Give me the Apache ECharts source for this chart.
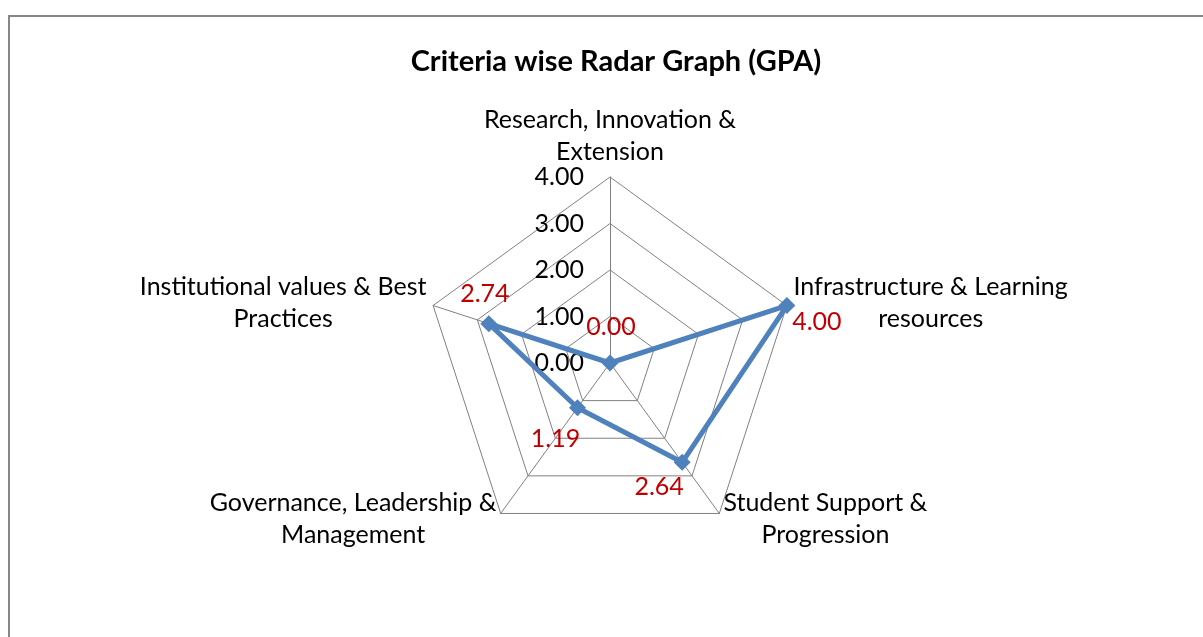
<!DOCTYPE html>
<html>
<head>
<meta charset="utf-8">
<script src="https://cdn.jsdelivr.net/npm/echarts@6/dist/echarts.min.js"></script>
<style>
  html, body { margin: 0; padding: 0; background: #fff; }
  #wrap { position: relative; width: 1203px; height: 637px; overflow: hidden; }
  #frame { position: absolute; left: 8px; top: 15px; width: 1400px; height: 800px;
           border-left: 2px solid #878787; border-top: 2px solid #878787; }
  #main { position: absolute; left: 0; top: 0; width: 1203px; height: 637px; }
</style>
</head>
<body>
<div id="wrap"><div id="frame"></div><div id="main"></div></div>
<script>
// criteria in the order they appear clockwise from the top
var criteria = [
  "Research, Innovation &\nExtension",
  "Infrastructure & Learning\nresources",
  "Student Support &\nProgression",
  "Governance, Leadership &\nManagement",
  "Institutional values & Best\nPractices"
];
var gpa = [0.00, 4.00, 2.64, 1.19, 2.74];
var axisTicks = [0, 1, 2, 3, 4];

// where each value label sits relative to its point (dx, dy)
var labelShift = [[1, -36], [30, 16], [-23, 25], [-22, 31], [-4, -30]];

// echarts lays the indicators out counter-clockwise, so walk the list backwards
var order = [0];
for (var i = criteria.length - 1; i > 0; i--) order.push(i);

var fontFam = "Lato, 'Liberation Sans', sans-serif";
var fs = 25;

var indicators = order.map(function (k, j) {
  var ind = { name: criteria[k], min: axisTicks[0], max: axisTicks[axisTicks.length - 1] };
  if (j === 0) ind.axisLabel = { show: true };
  return ind;
});

var rich = {};
labelShift.forEach(function (s, k) {
  var dx = s[0], dy = s[1];
  rich["p" + k] = {
    color: "#C00000",
    fontSize: fs,
    fontFamily: fontFam,
    padding: [dy > 0 ? 2 * dy : 0, dx < 0 ? -2 * dx : 0, dy < 0 ? -2 * dy : 0, dx > 0 ? 2 * dx : 0]
  };
});

var chart = echarts.init(document.getElementById("main"));
var option = {
  backgroundColor: "transparent",
  animation: false,
  title: {
    text: "Criteria wise Radar Graph (GPA)",
    left: 611,
    textAlign: "center",
    top: 42,
    textStyle: { fontSize: 29, fontWeight: "bold", color: "#000", fontFamily: fontFam }
  },
  radar: {
    center: [610, 363],
    radius: 186,
    splitNumber: axisTicks.length - 1,
    shape: "polygon",
    nameGap: 7,
    axisName: {
      color: "#000",
      fontSize: fs,
      fontFamily: fontFam,
      formatter: function (name) { return "{n|" + name + "}"; },
      rich: { n: { align: "center", fontSize: fs, fontFamily: fontFam, color: "#000", lineHeight: 32 } }
    },
    axisLine: { lineStyle: { color: "#808080", width: 1 } },
    splitLine: { lineStyle: { color: "#808080", width: 1 } },
    splitArea: { show: false },
    axisTick: { show: false },
    axisLabel: {
      show: false,
      color: "#000",
      fontSize: fs,
      fontFamily: fontFam,
      margin: 26,
      formatter: function (v) { return Number(v).toFixed(2); }
    },
    indicator: indicators
  },
  series: [{
    type: "radar",
    symbol: "diamond",
    symbolSize: 17,
    lineStyle: { color: "#4F81BD", width: 5 },
    itemStyle: { color: "#4F81BD" },
    label: {
      show: true,
      position: "inside",
      formatter: function (p) {
        var k = gpa.indexOf(p.value);
        return "{p" + k + "|" + Number(p.value).toFixed(2) + "}";
      },
      rich: rich
    },
    data: [{ value: order.map(function (k) { return gpa[k]; }), name: "GPA" }]
  }]
};
chart.setOption(option);
</script>
</body>
</html>
